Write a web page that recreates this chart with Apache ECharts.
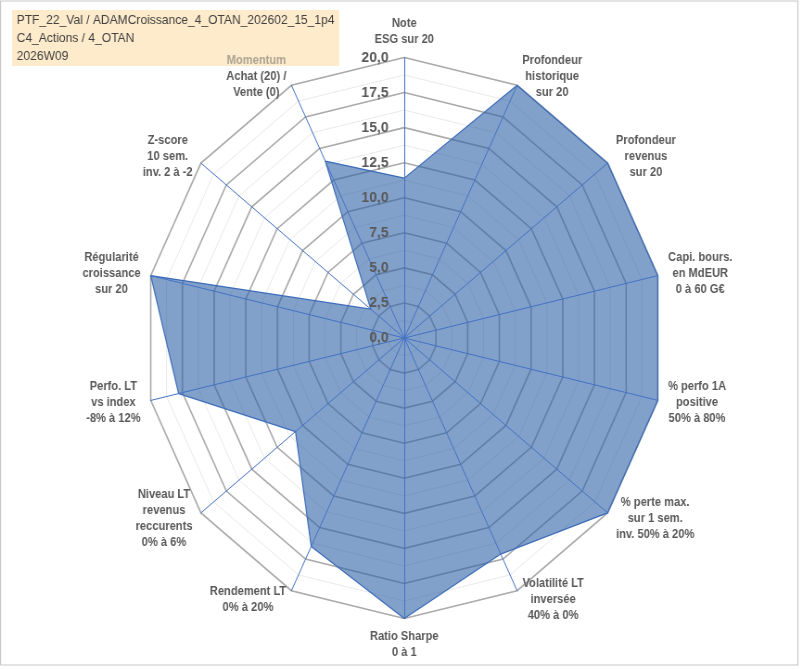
<!DOCTYPE html>
<html>
<head>
<meta charset="utf-8">
<script src="https://cdn.jsdelivr.net/npm/echarts@6/dist/echarts.min.js"></script>
<style>
  html, body { margin: 0; padding: 0; overflow: hidden; background: #fff; }
  /* la copie d'écran d'origine est un peu tassée en largeur */
  #main { width: 865px; height: 670px; transform: scaleX(0.9272); transform-origin: 0 0; }
</style>
</head>
<body>
<div id="main"></div>
<script>
// axes dans l'ordre horaire, en partant du haut
const axes = [
  'Note\nESG sur 20',
  'Profondeur\nhistorique\nsur 20',
  'Profondeur\nrevenus\nsur 20',
  'Capi. bours.\nen MdEUR\n0 à 60 G€',
  '% perfo 1A\npositive\n50% à 80%',
  '% perte max.\nsur 1 sem.\ninv. 50% à 20%',
  'Volatilité LT\ninversée\n40% à 0%',
  'Ratio Sharpe\n0 à 1',
  'Rendement LT\n0% à 20%',
  'Niveau LT\nrevenus\nreccurents\n0% à 6%',
  'Perfo. LT\nvs index\n-8% à 12%',
  'Régularité\ncroissance\nsur 20',
  'Z-score\n10 sem.\ninv. 2 à -2',
  'Momentum\nAchat (20) /\nVente (0)'
];
const scores = [11.4, 20, 20, 20, 20, 20, 17.1, 20, 16.5, 10.7, 17.8, 20, 3.3, 14.0];
const scoreMax = 20;
const mutedLine = 'Momentum'; // ligne grisée dans le libellé
const titleLines = [
  'PTF_22_Val / ADAMCroissance_4_OTAN_202602_15_1p4',
  'C4_Actions / 4_OTAN',
  '2026W09'
];

// le radar ECharts tourne dans le sens anti-horaire : on inverse après le premier axe
const ccw = arr => [arr[0]].concat(arr.slice(1).reverse());

const font = 'Arial, "Liberation Sans", sans-serif';
const center = [436, 338];
const radius = 280.5;

// libellés : lignes centrées dans un bloc de largeur fixe
const ctx = document.createElement('canvas').getContext('2d');
ctx.font = 'bold 12px ' + font;
const rich = {};
const names = ccw(axes).map((label, i) => {
  const lines = label.split('\n');
  const w = Math.ceil(Math.max(...lines.map(l => ctx.measureText(l).width))) + 2;
  const base = { width: w, align: 'center', fontFamily: font, fontSize: 12, fontWeight: 'bold', lineHeight: 16 };
  rich['c' + i] = Object.assign({ color: '#595959' }, base);
  rich['m' + i] = Object.assign({ color: '#ADA493' }, base);
  return lines.map(l => '{' + (l === mutedLine ? 'm' : 'c') + i + '|' + l + '}').join('\n');
});

const chart = echarts.init(document.getElementById('main'));

const option = {
  backgroundColor: '#fff',
  title: {
    text: titleLines.join('\n'),
    left: 13,
    top: 10,
    z: 0,
    padding: [1, 5, 1, 5],
    backgroundColor: '#FDEBCB',
    textStyle: {
      fontFamily: font,
      fontSize: 13,
      fontWeight: 'normal',
      color: '#404040',
      lineHeight: 18
    }
  },
  graphic: [{
    type: 'rect',
    shape: { x: 0.5, y: 1, width: 860, height: 664 },
    style: { fill: 'none', stroke: '#C8C8C8', lineWidth: 1.2 },
    silent: true,
    z: -1
  }],
  radar: [
    {
      // graduations secondaires tous les 1,25
      center: center,
      radius: radius,
      z: 1,
      shape: 'polygon',
      splitNumber: 16,
      indicator: names.map(n => ({ name: n, min: 0, max: scoreMax })),
      axisName: { show: false },
      axisLine: { show: false },
      axisTick: { show: false },
      axisLabel: { show: false },
      splitArea: { show: false },
      splitLine: { lineStyle: { color: '#E3E3E3', width: 0.8 } }
    },
    {
      center: center,
      radius: radius,
      z: 1,
      shape: 'polygon',
      splitNumber: 8,
      indicator: names.map(n => ({ name: n, min: 0, max: scoreMax })),
      axisName: {
        color: '#595959',
        fontFamily: font,
        fontSize: 12,
        fontWeight: 'bold',
        lineHeight: 16,
        rich: rich
      },
      nameGap: 10,
      axisLine: { show: false },
      axisTick: { show: false },
      axisLabel: { show: false },
      splitArea: { show: false },
      splitLine: { lineStyle: { color: '#ABABAB', width: 1.6 } }
    },
    {
      // rayons bleus et graduations par-dessus la surface
      center: center,
      radius: radius,
      z: 3,
      shape: 'polygon',
      splitNumber: 8,
      indicator: names.map((n, i) => ({
        name: n,
        min: 0,
        max: scoreMax,
        axisLabel: { show: i === 0 }
      })),
      axisName: { show: false },
      axisLine: { lineStyle: { color: '#4472C4', width: 1 } },
      axisTick: { show: false },
      axisLabel: {
        show: false,
        fontFamily: font,
        fontSize: 15,
        fontWeight: 'bold',
        color: '#595959',
        margin: 17,
        formatter: v => v.toFixed(1).replace('.', ',')
      },
      splitArea: { show: false },
      splitLine: { show: false }
    }
  ],
  series: [{
    type: 'radar',
    radarIndex: 1,
    z: 2,
    symbol: 'none',
    lineStyle: { color: '#4472C4', width: 1.2 },
    areaStyle: { color: '#2E62A6', opacity: 0.6 },
    data: [{ value: ccw(scores), name: 'Score' }]
  }]
};

chart.setOption(option);
</script>
</body>
</html>
